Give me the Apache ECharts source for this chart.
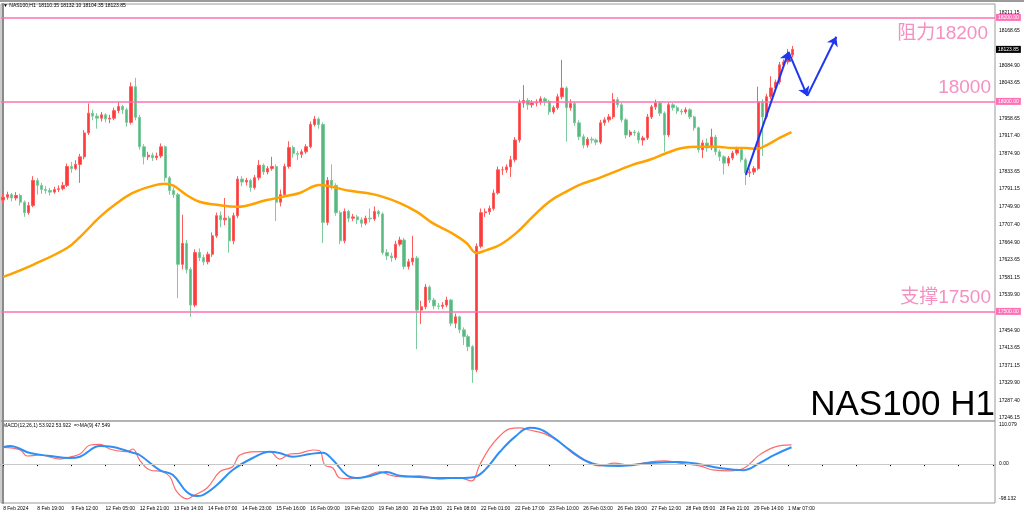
<!DOCTYPE html>
<html>
<head>
<meta charset="utf-8">
<script src="https://cdn.jsdelivr.net/npm/echarts@6/dist/echarts.min.js"></script>
<style>html,body{margin:0;padding:0;background:#fff;}#c{width:1024px;height:515px;}</style>
</head>
<body>
<div id="c"></div>
<script>
// ---- data ----
const timeLabels = ['8 Feb 2024','8 Feb 19:00','9 Feb 12:00','12 Feb 05:00','12 Feb 21:00','13 Feb 14:00','14 Feb 07:00','14 Feb 23:00','15 Feb 16:00','16 Feb 09:00','19 Feb 02:00','19 Feb 18:00','20 Feb 15:00','21 Feb 08:00','22 Feb 01:00','22 Feb 17:00','23 Feb 10:00','26 Feb 03:00','26 Feb 19:00','27 Feb 12:00','28 Feb 05:00','28 Feb 21:00','29 Feb 14:00','1 Mar 07:00'];
const slotCount = 233;
// [open, close, low, high]
const candles = [
[17765,17772,17758,17780],[17772,17778,17766,17785],[17778,17770,17762,17782],[17770,17776,17764,17784],[17776,17760,17752,17780],
[17760,17735,17725,17764],[17735,17752,17730,17760],[17752,17812,17748,17822],[17812,17800,17778,17818],[17800,17790,17780,17806],
[17790,17788,17780,17798],[17788,17784,17776,17794],[17784,17790,17780,17797],[17790,17792,17784,17800],[17792,17800,17788,17808],
[17800,17845,17796,17852],[17845,17840,17830,17856],[17840,17850,17836,17860],[17850,17868,17806,17875],[17868,17925,17862,17932],
[17925,17972,17920,17995],[17972,17965,17955,17980],[17965,17960,17935,17972],[17960,17968,17952,17975],[17968,17958,17950,17972],
[17958,17960,17948,17968],[17960,17978,17955,17985],[17978,17988,17972,17998],[17988,17980,17970,17992],[17980,17950,17940,17985],
[17950,18035,17945,18045],[18035,17962,17955,18056],[17962,17892,17885,17968],[17892,17868,17850,17898],[17868,17872,17860,17880],
[17872,17866,17858,17878],[17866,17870,17860,17878],[17870,17892,17865,17900],[17892,17818,17810,17895],[17818,17788,17778,17822],
[17788,17778,17770,17795],[17778,17612,17532,17782],[17612,17662,17600,17730],[17662,17600,17590,17670],[17600,17515,17487,17605],
[17515,17640,17510,17648],[17640,17628,17620,17650],[17628,17618,17610,17635],[17618,17636,17612,17642],[17636,17680,17630,17688],
[17680,17728,17675,17735],[17728,17718,17700,17738],[17718,17722,17705,17770],[17722,17668,17640,17728],[17668,17728,17660,17735],
[17728,17815,17722,17822],[17815,17808,17798,17822],[17808,17812,17800,17818],[17812,17795,17785,17816],[17795,17818,17790,17825],
[17818,17848,17812,17860],[17848,17832,17825,17852],[17832,17840,17826,17846],[17840,17845,17835,17868],[17845,17760,17715,17850],
[17760,17778,17750,17790],[17778,17845,17772,17852],[17845,17890,17840,17905],[17890,17876,17866,17895],[17876,17874,17860,17882],
[17874,17880,17865,17886],[17880,17892,17875,17898],[17892,17945,17888,17952],[17945,17958,17940,17965],[17958,17945,17935,17962],
[17945,17712,17663,17950],[17712,17812,17705,17820],[17812,17800,17790,17850],[17800,17735,17728,17805],[17735,17668,17660,17740],
[17668,17738,17662,17745],[17738,17722,17712,17742],[17722,17725,17715,17732],[17725,17718,17708,17730],[17718,17710,17700,17724],
[17710,17722,17705,17728],[17722,17720,17712,17745],[17720,17738,17715,17750],[17738,17732,17725,17742],[17732,17640,17635,17736],
[17640,17632,17622,17648],[17632,17628,17618,17640],[17628,17660,17622,17668],[17660,17670,17655,17678],[17670,17607,17600,17675],
[17607,17618,17600,17625],[17618,17627,17610,17680],[17627,17503,17410,17632],[17503,17511,17470,17525],[17511,17558,17505,17565],
[17558,17527,17520,17562],[17527,17513,17505,17532],[17513,17512,17505,17520],[17512,17515,17506,17522],[17515,17527,17510,17535],
[17527,17472,17465,17530],[17472,17487,17460,17495],[17487,17456,17448,17490],[17456,17440,17420,17462],[17440,17416,17405,17445],
[17416,17361,17330,17420],[17361,17655,17355,17662],[17655,17735,17650,17745],[17735,17737,17725,17745],[17737,17745,17730,17752],
[17745,17782,17740,17790],[17782,17837,17778,17845],[17837,17837,17825,17845],[17837,17844,17830,17850],[17844,17861,17820,17870],
[17861,17908,17855,17915],[17908,17996,17902,18004],[17996,18002,17985,18039],[18002,17992,17980,18008],[17992,17996,17985,18003],
[17996,17998,17988,18005],[17998,18006,17992,18012],[18006,18000,17990,18010],[18000,17975,17968,18004],[17975,17985,17970,17990],
[17985,18011,17980,18018],[18011,18032,18005,18099],[18032,17985,17904,18036],[17985,17995,17978,18005],[17995,17949,17942,18000],
[17949,17916,17908,17955],[17916,17896,17888,17922],[17896,17910,17890,17915],[17910,17908,17900,17916],[17908,17903,17896,17912],
[17903,17949,17898,17956],[17949,17956,17942,17962],[17956,17963,17950,17970],[17963,18004,17958,18020],[18004,17992,17985,18010],
[17992,17956,17950,17996],[17956,17920,17912,17960],[17920,17927,17915,17932],[17927,17925,17918,17932],[17925,17908,17900,17930],
[17908,17913,17895,17918],[17913,17963,17908,17970],[17963,17987,17958,17992],[17987,17996,17980,18004],[17996,17972,17965,18000],
[17972,17920,17880,17976],[17920,17992,17915,17998],[17992,17985,17978,17996],[17985,17977,17970,17990],[17977,17975,17968,17982],
[17975,17980,17970,17986],[17980,17963,17958,17984],[17963,17937,17930,17966],[17937,17885,17878,17940],[17885,17901,17865,17908],
[17901,17889,17880,17912],[17889,17915,17884,17935],[17915,17880,17872,17920],[17880,17868,17858,17885],[17868,17853,17826,17872],
[17853,17865,17846,17870],[17865,17877,17860,17882],[17877,17885,17872,17892],[17885,17861,17855,17888],[17861,17830,17801,17866],
[17830,17832,17820,17840],[17832,17840,17825,17846],[17840,17999,17836,18035],[17999,17963,17870,18005],[17963,18011,17958,18018],
[18011,18032,18005,18060],[18032,18046,18025,18052],[18046,18087,18040,18094],[18087,18094,18080,18100],[18094,18110,18088,18125],
[18110.35,18123.85,18104.35,18132.10]
];
// moving average [barIndex, value]
const maLine = [
[0,17582],[7,17611],[15,17651],[18,17677],[22.7,17725],[26.7,17758],[30.4,17782],[34.4,17797],[37.9,17804],[39.8,17800],
[43,17777],[46,17761],[50,17754],[54.8,17749],[61.8,17765],[65.6,17773],[69.5,17782],[74.2,17801],[77.3,17796],[81.2,17787],
[85.2,17782],[88.3,17775],[93,17758],[97,17737],[100.7,17710],[104.7,17689],[108.6,17663],[111,17639],[113.3,17646],[116.4,17658],
[120.3,17687],[124.1,17725],[128,17761],[132,17785],[135.8,17804],[139.8,17818],[147.5,17849],[151.5,17861],[155.5,17877],
[159.2,17889],[163.2,17892],[167.2,17892],[171,17889],[174.2,17889],[176.6,17887],[179,17896],[182,17913],[184.8,17927]
];
// MACD main (red) and signal (blue) [barIndex, value]
const macdMain = [
[0,47],[4,39.7],[5.6,22.8],[8.6,25.6],[13.3,14.3],[15.7,20],[18,28.4],[20.4,53.7],[22.7,55.7],[25,42.5],[29,34.9],[30.4,42.5],
[32,11.5],[34.4,-16.6],[37.4,-21.4],[39.1,-35.5],[40.7,-77.7],[43.1,-98],[44.5,-89.8],[47.8,-67.2],[50.8,-21.4],[53.8,-7.3],
[55.5,25.6],[60.2,34.9],[62.5,34.9],[64.8,14.3],[67.2,28.4],[69.5,30.4],[72.6,39.7],[74.2,37.7],[75.4,-2.5],[77.3,-11],
[78.9,-39.1],[81.2,-41],[83.6,-39.1],[85.2,-33.5],[88.3,-21.4],[90.6,-30.7],[93,-35.5],[97.6,-33],[102.3,-42],[107,-39],
[109.8,-47],[111.7,-2.5],[114,45],[116.4,79],[118.7,99],[121,102],[123.4,96],[127,85],[130.4,62],[134,26],[137.4,3],[139.8,-5],
[143.3,3],[146.8,-2.5],[151.5,6],[155,9],[158.5,3],[163.2,-5],[166.7,-17],[170.2,-19],[173.7,-11],[177.3,26],[180.8,48],[184.8,53.9]
];
const macdSignal = [
[0,47.3],[1.6,50.9],[6.3,31.2],[11,22.8],[15.7,17.2],[18,20.8],[22.7,50.9],[25,49.5],[30.4,32],[32,25.6],[36.7,-16.6],
[39.8,-30.7],[43,-77.7],[45.4,-89.8],[46.8,-87],[50.1,-58.8],[53.8,-16.6],[58.5,17.2],[62.5,34.9],[64.8,31.2],[67.9,20.8],
[71.9,28.4],[74.9,32],[77.3,11.5],[80.5,-30.7],[82.9,-39.1],[85.2,-35.5],[89.9,-22.2],[93,-32.6],[97.6,-36],[102.3,-39],
[107,-39],[110.5,-36],[112.9,-17],[116.4,34],[119.9,76],[123.4,102],[125.7,99],[129.2,73],[132.8,40],[136.3,11.5],[139.8,-2.5],
[144.5,-5],[151.5,3],[158.5,6],[163.2,0],[167.9,-11],[173.7,-17],[177.3,3],[180.8,26],[184.8,47.5]
];
const priceTicks = [18211.15,18168.65,18084.90,18043.65,17958.65,17917.40,17874.90,17833.65,17791.15,17749.90,17707.40,17664.90,17623.65,17581.15,17539.90,17454.90,17413.65,17371.15,17329.90,17287.40,17246.15];
const macdTicks = [110.079, 0, -98.132];
const levels = [
  {value: 18200, box: '18200.00', text: '阻力18200', pos: 'insideEndBottom', dist: 7},
  {value: 18000, box: '18000.00', text: '18000', pos: 'insideEndTop', dist: 4},
  {value: 17500, box: '17500.00', text: '支撑17500', pos: 'insideEndTop', dist: 4}
];
const lastPrice = 18123.85;
const arrowPath = [[174.1,17825],[184.1,18118],[188.5,18013],[195.3,18154]];

// ---- chart ----
const cats = Array.from({length: slotCount}, (_, i) => 'b' + i);
const small = {fontSize: 5, fontFamily: 'Liberation Sans', color: '#000'};
const pink = '#ff6fb5';
const hidden = {color: 'rgba(0,0,0,0)', width: 0, type: 'solid'};

const markData = [];
levels.forEach(l => {
  markData.push({yAxis: l.value, lineStyle: {color: pink, width: 1.6, type: 'solid'},
    label: {show: true, position: 'end', formatter: l.box, color: '#fff', backgroundColor: pink,
      fontSize: 5, fontFamily: 'Liberation Sans', padding: [1, 2, 1, 2], distance: 1}});
  markData.push({yAxis: l.value, lineStyle: hidden,
    label: {show: true, position: l.pos, formatter: l.text, color: '#f590c3', fontSize: 19,
      fontFamily: 'Liberation Sans, Noto Sans CJK SC', distance: l.dist}});
});
markData.push({yAxis: lastPrice, lineStyle: hidden,
  label: {show: true, position: 'end', formatter: lastPrice.toFixed(2), color: '#fff', backgroundColor: '#000',
    fontSize: 5, fontFamily: 'Liberation Sans', padding: [1, 2, 1, 2], distance: 1}});

const arrowData = [];
for (let k = 0; k < arrowPath.length - 1; k++) {
  arrowData.push([{coord: arrowPath[k]}, {coord: arrowPath[k + 1]}]);
}

const option = {
  animation: false,
  backgroundColor: '#fff',
  grid: [
    {left: 1, top: 4, width: 994, height: 417, show: true, borderColor: '#9a9a9a', borderWidth: 1},
    {left: 1, top: 421, width: 994, height: 82, show: true, borderColor: '#9a9a9a', borderWidth: 1}
  ],
  xAxis: [
    {type: 'category', gridIndex: 0, data: cats, boundaryGap: true, axisLine: {show: false}, axisTick: {show: false}, axisLabel: {show: false}},
    {type: 'category', gridIndex: 1, data: cats, boundaryGap: true,
      axisLine: {show: true, lineStyle: {color: '#8a8a8a', width: 1}},
      axisTick: {show: true, interval: 7, alignWithLabel: true, length: 2, lineStyle: {color: '#000'}},
      axisLabel: Object.assign({interval: 7, margin: 3, align: 'left',
        formatter: (v, i) => (i % 8 === 0 && timeLabels[i / 8]) ? timeLabels[i / 8] : ''}, small)},
    {type: 'value', gridIndex: 0, min: -0.5, max: slotCount - 0.5, show: false},
    {type: 'value', gridIndex: 1, min: -0.5, max: slotCount - 0.5, show: false}
  ],
  yAxis: [
    {type: 'value', gridIndex: 0, position: 'right', min: 17239.0, max: 18231.9, scale: true,
      splitLine: {show: false},
      axisLine: {show: true, lineStyle: {color: '#8a8a8a', width: 2}},
      axisTick: {show: false},
      axisLabel: Object.assign({customValues: priceTicks, margin: 4, formatter: v => v.toFixed(2)}, small)},
    {type: 'value', gridIndex: 1, position: 'right', min: -109.39, max: 121.33,
      splitLine: {show: false},
      axisLine: {show: true, lineStyle: {color: '#8a8a8a', width: 2}},
      axisTick: {show: false},
      axisLabel: Object.assign({customValues: macdTicks, margin: 4,
        formatter: v => (Math.abs(v) < 1e-9 ? '0.00' : v.toFixed(3))}, small)}
  ],
  series: [
    {type: 'candlestick', xAxisIndex: 0, yAxisIndex: 0, data: candles, barWidth: 2.8,
      itemStyle: {color: '#ff3a3a', borderColor: '#ff5c5c', color0: '#58b880', borderColor0: '#7ccb9c', borderWidth: 1},
      markLine: {silent: true, symbol: ['none', 'none'], animation: false, data: markData}},
    {type: 'line', xAxisIndex: 2, yAxisIndex: 0, data: maLine, smooth: 0.4, showSymbol: false,
      lineStyle: {color: '#ffa200', width: 2.5}, z: 3,
      markLine: {silent: true, symbol: ['none', 'arrow'], symbolSize: 9, animation: false,
        lineStyle: {color: '#1f36f0', width: 2, type: 'solid'}, label: {show: false}, data: arrowData}},
    {type: 'line', xAxisIndex: 3, yAxisIndex: 1, data: macdMain, smooth: 0.4, showSymbol: false,
      lineStyle: {color: '#ff6b6b', width: 1.2}, z: 3,
      markLine: {silent: true, symbol: ['none', 'none'], label: {show: false},
        lineStyle: {color: '#c8c8c8', width: 1, type: 'solid'}, data: [{yAxis: 0}]}},
    {type: 'line', xAxisIndex: 3, yAxisIndex: 1, data: macdSignal, smooth: 0.4, showSymbol: false,
      lineStyle: {color: '#2f8ff5', width: 2}, z: 4}
  ],
  graphic: [
    {type: 'rect', shape: {x: 0, y: 0, width: 1024, height: 2}, style: {fill: '#9b9b9b'}, silent: true},
    {type: 'text', x: 3, y: 3, style: {text: '▼ NAS100,H1  18110.35 18132.10 18104.35 18123.85', fontSize: 5, fontFamily: 'Liberation Sans', fill: '#000'}},
    {type: 'text', x: 3, y: 423, style: {text: 'MACD(12,26,1) 53.922 53.922  =>MA(9) 47.549', fontSize: 5, fontFamily: 'Liberation Sans', fill: '#000'}},
    {type: 'text', x: 995, y: 405, z: 100, style: {text: 'NAS100 H1', fontSize: 35, fontFamily: 'Liberation Sans', fill: '#000', align: 'right', verticalAlign: 'middle'}}
  ]
};
const chart = echarts.init(document.getElementById('c'), null, {renderer: 'canvas'});
chart.setOption(option);
</script>
</body>
</html>
